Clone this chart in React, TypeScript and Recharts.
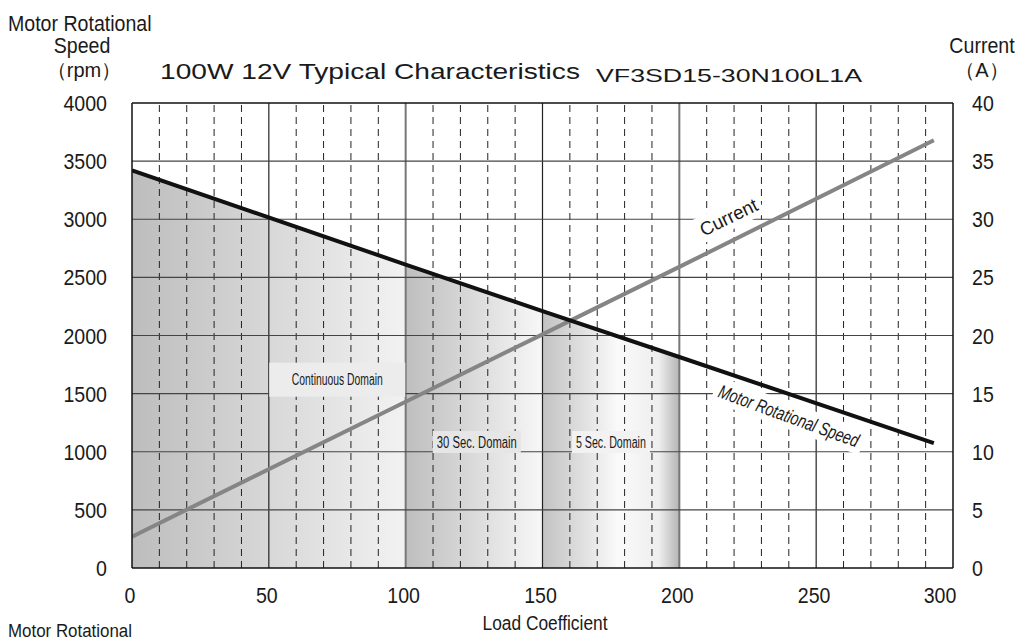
import React from 'react';
import {
  ComposedChart, Line, Area, XAxis, YAxis, ReferenceLine, ReferenceDot,
} from 'recharts';

const loadCoef = [0, 100, 150, 200, 293];
const speedRpm = [3420, 2610, 2210, 1815, 1075];
const currentA = [2.7, 14.3, 20.1, 25.9, 36.8];

const xTicks = [0, 50, 100, 150, 200, 250, 300];
const leftTicks = [0, 500, 1000, 1500, 2000, 2500, 3000, 3500, 4000];
const rightTicks = [0, 5, 10, 15, 20, 25, 30, 35, 40];
const minorX = [10, 20, 30, 40, 60, 70, 80, 90, 110, 120, 130, 140, 160, 170, 180, 190, 210, 220, 230, 240, 260, 270, 280, 290];
const majorX = [50, 100, 150, 200, 250];
const majorY = [500, 1000, 1500, 2000, 2500, 3000, 3500];

// domain segments: [start, end]
const seg1 = [0, 100];
const seg2 = [100, 150];
const seg3 = [150, 200];

const data = loadCoef.map((x, i) => {
  const row: any = { x, speed: speedRpm[i], current: currentA[i] };
  if (x >= seg1[0] && x <= seg1[1]) row.s1 = speedRpm[i];
  if (x >= seg2[0] && x <= seg2[1]) row.s2 = speedRpm[i];
  if (x >= seg3[0] && x <= seg3[1]) row.s3 = speedRpm[i];
  return row;
});

const FONT = "'Liberation Sans', Arial, Helvetica, sans-serif";
const SX = 0.89;

const CText = ({ x, y, anchor = 'start', size = 22, sx = SX, children, italic = false }: any) => (
  <g transform={`translate(${x},${y})`}>
    <text transform={`scale(${sx},1)`} x={0} y={0} textAnchor={anchor} fontFamily={FONT}
      fontSize={size} fontStyle={italic ? 'italic' : 'normal'} fill="#1a1a1a">
      {children}
    </text>
  </g>
);

const LeftTick = (props: any) => (
  <CText x={props.x - 25} y={props.y + 8} anchor="end">{props.payload.value}</CText>
);
const RightTick = (props: any) => (
  <CText x={props.x + 19} y={props.y + 8} anchor="start">{props.payload.value}</CText>
);
const BottomTick = (props: any) => (
  <CText x={props.x - (props.payload.value === 300 ? 13 : 2)} y={props.y + 35} anchor="middle">{props.payload.value}</CText>
);

const RotLabel = (text: string, angle: number, opts: { italic?: boolean; w: number; h: number; size: number; len: number; bg?: string }) =>
  (props: any) => {
    const { cx, cy } = props;
    return (
      <g transform={`translate(${cx},${cy}) rotate(${angle})`}>
        <rect x={-opts.w / 2} y={-opts.h / 2} width={opts.w} height={opts.h} fill={opts.bg ?? '#fff'} />
        <text x={0} y={opts.size * 0.36} textAnchor="middle" textLength={opts.len} lengthAdjust="spacingAndGlyphs"
          fontFamily={FONT} fontSize={opts.size} fontStyle={opts.italic ? 'italic' : 'normal'} fill="#1a1a1a">
          {text}
        </text>
      </g>
    );
  };

export default function App() {
  return (
    <div style={{ position: 'absolute', left: 0, top: 0, width: 1020, height: 643, background: '#fff', overflow: 'hidden' }}>
      <svg width={1020} height={643} style={{ position: 'absolute', left: 0, top: 0 }}>
        <CText x={8} y={31}>Motor Rotational</CText>
        <CText x={82} y={53} anchor="middle">Speed</CText>
        <CText x={84} y={77} anchor="middle" sx={1} size={20}>（rpm）</CText>
        <text x={160} y={79} fontFamily={FONT} fontSize={22} textLength={420} lengthAdjust="spacingAndGlyphs" fill="#1a1a1a">100W 12V Typical Characteristics</text>
        <text x={596} y={82} fontFamily={FONT} fontSize={18} textLength={266} lengthAdjust="spacingAndGlyphs" fill="#1a1a1a">VF3SD15-30N100L1A</text>
        <CText x={982} y={53} anchor="middle">Current</CText>
        <CText x={982} y={77} anchor="middle" sx={1} size={20}>（A）</CText>
        <text x={545} y={630} textAnchor="middle" fontFamily={FONT} fontSize={20} textLength={125} lengthAdjust="spacingAndGlyphs" fill="#1a1a1a">Load Coefficient</text>
        <CText x={8} y={637} size={19}>Motor Rotational</CText>
      </svg>
      <div style={{ position: 'absolute', left: 0, top: 0 }}>
        <ComposedChart width={1020} height={643} data={data}
          margin={{ top: 103, right: 17, bottom: 35, left: 72 }}>
          <defs>
            <linearGradient id="g1" x1="0" y1="0" x2="1" y2="0">
              <stop offset="0%" stopColor="#bdbdbd" />
              <stop offset="100%" stopColor="#f2f2f2" />
            </linearGradient>
            <linearGradient id="g2" x1="0" y1="0" x2="1" y2="0">
              <stop offset="0%" stopColor="#bebebe" />
              <stop offset="100%" stopColor="#f7f7f7" />
            </linearGradient>
            <linearGradient id="g3" x1="0" y1="0" x2="1" y2="0">
              <stop offset="0%" stopColor="#c2c2c2" />
              <stop offset="55%" stopColor="#fafafa" />
              <stop offset="85%" stopColor="#eeeeee" />
              <stop offset="100%" stopColor="#b4b4b4" />
            </linearGradient>
          </defs>
          <XAxis dataKey="x" type="number" domain={[0, 300]} ticks={xTicks} interval={0}
            tick={<BottomTick />} tickLine={false} tickSize={0} tickMargin={0} height={40}
            axisLine={{ stroke: '#111', strokeWidth: 1.5 }} allowDataOverflow />
          <YAxis yAxisId="left" domain={[0, 4000]} ticks={leftTicks} interval={0}
            tick={<LeftTick />} tickLine={false} tickSize={0} tickMargin={0} width={60}
            axisLine={{ stroke: '#111', strokeWidth: 1.5 }} />
          <YAxis yAxisId="right" orientation="right" domain={[0, 40]} ticks={rightTicks} interval={0}
            tick={<RightTick />} tickLine={false} tickSize={0} tickMargin={0} width={50}
            axisLine={{ stroke: '#111', strokeWidth: 1.5 }} />
          <Area yAxisId="left" dataKey="s1" type="linear" stroke="none" fill="url(#g1)" fillOpacity={1} isAnimationActive={false} connectNulls={false} />
          <Area yAxisId="left" dataKey="s2" type="linear" stroke="none" fill="url(#g2)" fillOpacity={1} isAnimationActive={false} connectNulls={false} />
          <Area yAxisId="left" dataKey="s3" type="linear" stroke="none" fill="url(#g3)" fillOpacity={1} isAnimationActive={false} connectNulls={false} />
          {minorX.map((v) => (
            <ReferenceLine key={'m' + v} yAxisId="left" x={v} stroke="#222" strokeWidth={1} strokeDasharray="7 5" />
          ))}
          {majorX.map((v) => (
            <ReferenceLine key={'v' + v} yAxisId="left" x={v} stroke={v === 100 || v === 200 ? '#777' : '#222'} strokeWidth={v === 100 || v === 200 ? 2 : 1.2} />
          ))}
          {majorY.map((v) => (
            <ReferenceLine key={'h' + v} yAxisId="left" y={v} stroke="#444" strokeWidth={1.2} />
          ))}
          <ReferenceLine yAxisId="left" y={4000} stroke="#111" strokeWidth={1.5} />
          <ReferenceDot yAxisId="left" x={75} y={1620} r={1}
            shape={RotLabel('Continuous Domain', 0, { w: 136, h: 34, size: 16, len: 91, bg: '#ececec' })} />
          <ReferenceDot yAxisId="left" x={126} y={1084} r={1}
            shape={RotLabel('30 Sec. Domain', 0, { w: 88, h: 22, size: 16, len: 80, bg: '#e6e6e6' })} />
          <ReferenceDot yAxisId="left" x={175} y={1084} r={1}
            shape={RotLabel('5 Sec. Domain', 0, { w: 78, h: 22, size: 16, len: 70, bg: '#f2f2f2' })} />
          <Line yAxisId="right" dataKey="current" type="linear" stroke="#858585" strokeWidth={4} dot={false} isAnimationActive={false} />
          <Line yAxisId="left" dataKey="speed" type="linear" stroke="#111" strokeWidth={4} dot={false} isAnimationActive={false} />
          <ReferenceDot yAxisId="right" x={218} y={30.2} r={1}
            shape={RotLabel('Current', -26, { w: 70, h: 26, size: 19, len: 62 })} />
          <ReferenceDot yAxisId="left" x={240} y={1310} r={1}
            shape={RotLabel('Motor Rotational Speed', 20, { italic: true, w: 158, h: 26, size: 19, len: 148 })} />
        </ComposedChart>
      </div>
    </div>
  );
}
